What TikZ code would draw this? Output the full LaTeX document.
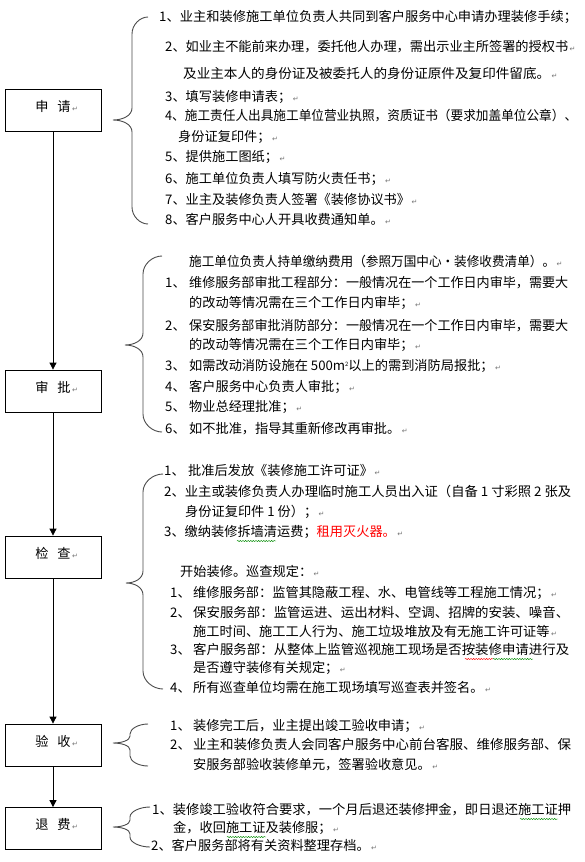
\documentclass[tikz,border=0pt]{standalone}
\usepackage{fontspec}
\usepackage{graphicx}
\setmainfont{Noto Sans CJK SC}
\newfontfamily\djv{DejaVu Sans}
\usetikzlibrary{arrows.meta,decorations.pathmorphing}
\newcommand\fz{\fontsize{13.2}{15}\selectfont}
\newcommand\pmk{\hspace{1.5pt}{\djv\fontsize{7}{7}\selectfont\color{black!55}↵}}
\newcommand\fitw[2]{\resizebox{#1pt}{\height}{#2}}
\newcommand\nm[2][24]{\makebox[#1pt][l]{#2}}
\newcommand\sqm{m\raisebox{4.5pt}{\fontsize{6}{6}\selectfont 2}}
\newcommand\mybrace[8]{%
\draw[bracestyle] (#1,#4) .. controls ({#2+0.5*(#1-#2)},#4) and (#2,{#4+0.45*#7}) .. (#2,{#4+#7})
 -- (#2,{#5-#8}) .. controls (#2,{#5-0.35*#8}) and ({#3+0.5*(#2-#3)},#5) .. (#3,#5)
 .. controls ({#3+0.5*(#2-#3)},#5) and (#2,{#5+0.35*#8}) .. (#2,{#5+#8})
 -- (#2,{#6-#7}) .. controls (#2,{#6-0.45*#7}) and ({#2+0.5*(#1-#2)},#6) .. (#1,#6);}
\begin{document}
\begin{tikzpicture}[x=1pt,y=-1pt,
 tx/.style={anchor=west,inner sep=0pt,text height=11.4pt,text depth=1.6pt,font=\fz},
 stepbox/.style={draw,line width=0.8pt,minimum width=96pt,minimum height=42pt,inner sep=0pt,text height=11.4pt,text depth=8.6pt,font=\fz},
 conn/.style={line width=0.8pt,-{Triangle[length=7pt,width=7pt]}},
 bracestyle/.style={draw=black!70,line width=0.9pt},
 wavy/.style={decorate,decoration={snake,amplitude=0.6pt,segment length=2.6pt},line width=0.45pt}]
\fill[white] (0,0) rectangle (585,862);
\useasboundingbox (0,0) rectangle (585,862);

% boxes
\node[stepbox] (b1) at (53,110) {申\hspace{9pt}请\rlap{\pmk}};
\node[stepbox] (b2) at (53,391) {审\hspace{9pt}批\rlap{\pmk}};
\node[stepbox] (b3) at (53,557) {检\hspace{9pt}查\rlap{\pmk}};
\node[stepbox] (b4) at (53,745) {验\hspace{9pt}收\rlap{\pmk}};
\node[stepbox] (b5) at (53,828.5) {退\hspace{9pt}费\rlap{\pmk}};

\draw[conn] (b1.south) -- (b2.north);
\draw[conn] (b2.south) -- (b3.north);
\draw[conn] (b3.south) -- (b4.north);
\draw[conn] (b4.south) -- (b5.north);

% braces
\mybrace{148}{132}{113}{17}{120}{224}{17}{12}
\mybrace{162}{143}{125}{256}{345}{432}{18}{12}
\mybrace{163}{143}{126}{474}{583}{689}{18}{12}
\mybrace{148}{130}{113}{724}{743}{766}{10}{7}
\mybrace{150}{130}{113}{807}{827}{847}{10}{7}

% 申请
\node[tx] (a1) at (159,17) {\fitw{418}{1、业主和装修施工单位负责人共同到客户服务中心申请办理装修手续；}};
\node[tx] (a2) at (165,47) {\fitw{403}{2、如业主不能前来办理，委托他人办理，需出示业主所签署的授权书}\pmk};
\node[tx] (a3) at (183,74) {\fitw{367}{及业主本人的身份证及被委托人的身份证原件及复印件留底。}\pmk};
\node[tx] (a4) at (165,97) {3、填写装修申请表；\pmk};
\node[tx] (a5) at (165,116) {\fitw{412}{4、施工责任人出具施工单位营业执照，资质证书（要求加盖单位公章）、}};
\node[tx] (a6) at (178,137) {身份证复印件；\pmk};
\node[tx] (a7) at (165,157) {5、提供施工图纸；\pmk};
\node[tx] (a8) at (165,179) {6、施工单位负责人填写防火责任书；\pmk};
\node[tx] (a9) at (165,200) {7、业主及装修负责人签署《装修协议书》\pmk};
\node[tx] (a10) at (165,220) {8、客户服务中心人开具收费通知单。\pmk};

% 审批
\node[tx] (s0) at (189,262) {\fitw{366}{施工单位负责人持单缴纳费用（参照万国中心·装修收费清单）。}\pmk};
\node[tx] (s1) at (165,283) {\nm{1、}\fitw{379}{维修服务部审批工程部分：一般情况在一个工作日内审毕，需要大}};
\node[tx] (s2) at (189,303) {的改动等情况需在三个工作日内审毕；\pmk};
\node[tx] (s3) at (165,326) {\nm{2、}\fitw{379}{保安服务部审批消防部分：一般情况在一个工作日内审毕，需要大}};
\node[tx] (s4) at (189,345) {的改动等情况需在三个工作日内审毕；\pmk};
\node[tx] (s5) at (165,366) {\nm{3、}如需改动消防设施在 500\sqm 以上的需到消防局报批；\pmk};
\node[tx] (s6) at (165,387) {\nm{4、}客户服务中心负责人审批；\pmk};
\node[tx] (s7) at (165,407) {\nm{5、}物业总经理批准；\pmk};
\node[tx] (s8) at (165,429) {\nm{6、}如不批准，指导其重新修改再审批。\pmk};

% 检查
\node[tx] (c1) at (164,471) {\nm{1、}批准后发放《装修施工许可证》\pmk};
\node[tx] (c2) at (164,492) {\fitw{407}{2、业主或装修负责人办理临时施工人员出入证（自备 1 寸彩照 2 张及}};
\node[tx] (c3) at (185,512) {身份证复印件 1 份）；\pmk};
\node[tx] (c4) at (164,532) {3、缴纳装修拆墙清运费；\textcolor{red}{租用灭火器。}\pmk};
\node[tx] (c5) at (180,572) {开始装修。巡查规定：\pmk};
\node[tx] (c6) at (170,593) {\nm[23]{1、}维修服务部：监管其隐蔽工程、水、电管线等工程施工情况；\pmk};
\node[tx] (c7) at (170,613) {\nm[23]{2、}\fitw{376}{保安服务部：监管运进、运出材料、空调、招牌的安装、噪音、}};
\node[tx] (c8) at (193,632) {施工时间、施工工人行为、施工垃圾堆放及有无施工许可证等\pmk};
\node[tx] (c9) at (170,650) {\nm[23]{3、}\fitw{376}{客户服务部：从整体上监管巡视施工现场是否按装修申请进行及}};
\node[tx] (c10) at (193,668) {是否遵守装修有关规定；\pmk};
\node[tx] (c11) at (170,688) {\nm[23]{4、}所有巡查单位均需在施工现场填写巡查表并签名。\pmk};

% 验收
\node[tx] (v1) at (170,726) {\nm[23]{1、}装修完工后，业主提出竣工验收申请；\pmk};
\node[tx] (v2) at (170,745) {\nm[23]{2、}\fitw{378}{业主和装修负责人会同客户服务中心前台客服、维修服务部、保}};
\node[tx] (v3) at (193,765) {安服务部验收装修单元，签署验收意见。\pmk};

% 退费
\node[tx] (f1) at (152,810) {\fitw{419}{1、装修竣工验收符合要求，一个月后退还装修押金，即日退还施工证押}};
\node[tx] (f2) at (173,828) {金，收回施工证及装修服；\pmk};
\node[tx] (f3) at (151,846) {2、客户服务部将有关资料整理存档。\pmk};

% spell-check marks
\draw[wavy,green!55!black] (237,541) -- (276,541);
\draw[wavy,red] (465,659) -- (493,659);
\draw[wavy,green!55!black] (493,659) -- (533,659);
\draw[wavy,green!55!black] (520,819) -- (558,819);
\draw[wavy,green!55!black] (227,837) -- (266,837);
\end{tikzpicture}
\end{document}
